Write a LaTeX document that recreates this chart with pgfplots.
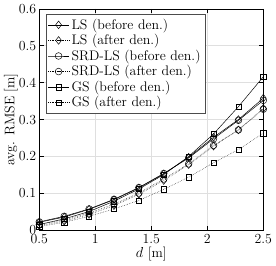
\documentclass[border=0pt]{standalone}
\usepackage{pgfplots}
\pgfplotsset{compat=1.18}
\begin{document}
\begin{tikzpicture}
\begin{axis}[
  scale only axis, width=186pt, height=184pt,
  xmin=0.5, xmax=2.5, ymin=0, ymax=0.6,
  xtick={0.5,1,1.5,2,2.5}, ytick={0,0.1,0.2,0.3,0.4,0.5,0.6},
  xticklabels={0.5,1,1.5,2,2.5},
  yticklabels={0,0.1,0.2,0.3,0.4,0.5,0.6},
  tick label style={font=\fontsize{11.5}{13}\selectfont},
  label style={font=\fontsize{11.5}{13}\selectfont},
  tick align=inside, tick style={black, thin}, major tick length=3.5pt,
  xmajorgrids, ymajorgrids, grid style={gray!25, thin},
  axis line style={black, thin},
  xlabel={$d$ [m]}, ylabel={avg. RMSE [m]},
  xlabel style={yshift=4pt}, ylabel style={yshift=-6pt},
  yticklabel style={xshift=1pt},
  legend style={font=\fontsize{11.5}{13}\selectfont, draw=black!70, fill=white, inner sep=1.5pt, row sep=-1.2pt,
    at={(0.03,0.975)}, anchor=north west},
  legend cell align=left,
]
\addplot[black, solid, mark=diamond, mark size=3.2pt, mark options={solid}] coordinates {(0.5,0.022)(0.7222,0.036)(0.9444,0.057)(1.1667,0.083)(1.3889,0.115)(1.6111,0.153)(1.8333,0.198)(2.0556,0.252)(2.2778,0.300)(2.5,0.358)};
\addlegendentry{LS (before den.)}
\addplot[black, densely dotted, mark=diamond, mark size=3.2pt, mark options={solid}] coordinates {(0.5,0.013)(0.7222,0.025)(0.9444,0.043)(1.1667,0.067)(1.3889,0.098)(1.6111,0.135)(1.8333,0.178)(2.0556,0.228)(2.2778,0.272)(2.5,0.330)};
\addlegendentry{LS (after den.)}
\addplot[black, solid, mark=o, mark size=2.8pt, mark options={solid}] coordinates {(0.5,0.023)(0.7222,0.038)(0.9444,0.058)(1.1667,0.084)(1.3889,0.116)(1.6111,0.154)(1.8333,0.196)(2.0556,0.248)(2.2778,0.298)(2.5,0.352)};
\addlegendentry{SRD-LS (before den.)}
\addplot[black, densely dotted, mark=o, mark size=2.8pt, mark options={solid}] coordinates {(0.5,0.016)(0.7222,0.028)(0.9444,0.047)(1.1667,0.071)(1.3889,0.101)(1.6111,0.139)(1.8333,0.180)(2.0556,0.230)(2.2778,0.272)(2.5,0.328)};
\addlegendentry{SRD-LS (after den.)}
\addplot[black, solid, mark=square, mark size=2.2pt, mark options={solid}] coordinates {(0.5,0.016)(0.7222,0.031)(0.9444,0.051)(1.1667,0.079)(1.3889,0.112)(1.6111,0.151)(1.8333,0.200)(2.0556,0.261)(2.2778,0.335)(2.5,0.416)};
\addlegendentry{GS (before den.)}
\addplot[black, densely dotted, mark=square, mark size=2.2pt, mark options={solid}] coordinates {(0.5,0.010)(0.7222,0.022)(0.9444,0.038)(1.1667,0.058)(1.3889,0.081)(1.6111,0.111)(1.8333,0.144)(2.0556,0.183)(2.2778,0.219)(2.5,0.263)};
\addlegendentry{GS (after den.)}
\end{axis}
\end{tikzpicture}
\end{document}
